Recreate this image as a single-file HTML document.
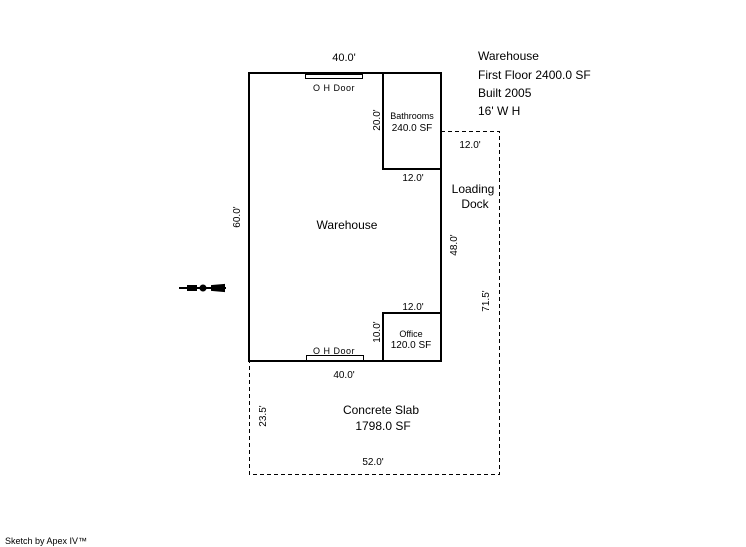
<!DOCTYPE html>
<html><head><style>
html,body{margin:0;padding:0;background:#fff;width:746px;height:547px;overflow:hidden}
svg text{font-family:"Liberation Sans",sans-serif;fill:#000}
</style></head><body>
<svg width="746" height="547" viewBox="0 0 746 547" xmlns="http://www.w3.org/2000/svg">
<g fill="none" stroke="#000" stroke-width="1" stroke-dasharray="4,3">
<polyline points="441,131.5 499.5,131.5 499.5,474.5 249.5,474.5 249.5,361"/>
</g>
<g fill="none" stroke="#000" stroke-width="2">
<rect x="249" y="73" width="192" height="288"/>
<polyline points="383,73 383,169 441,169"/>
<polyline points="383,361 383,313 441,313"/>
</g>
<rect x="305.5" y="74.5" width="57" height="4" fill="#fff" stroke="#000" stroke-width="1"/>
<rect x="306.5" y="355.5" width="57" height="5" fill="#fff" stroke="#000" stroke-width="1"/>
<g font-size="11">
<text x="344" y="61" text-anchor="middle">40.0'</text>
<text x="334" y="91" text-anchor="middle" font-size="9" letter-spacing="0.5">O H Door</text>
<text x="334" y="354" text-anchor="middle" font-size="9" letter-spacing="0.5">O H Door</text>
<text x="412" y="119" text-anchor="middle" font-size="9">Bathrooms</text>
<text x="412" y="131" text-anchor="middle" font-size="10">240.0 SF</text>
<text x="411" y="337" text-anchor="middle" font-size="9">Office</text>
<text x="411" y="348" text-anchor="middle" font-size="10">120.0 SF</text>
<text x="413" y="181" text-anchor="middle" font-size="10">12.0'</text>
<text x="413" y="310" text-anchor="middle" font-size="10">12.0'</text>
<text x="470" y="148" text-anchor="middle" font-size="10">12.0'</text>
<text x="344" y="378" text-anchor="middle" font-size="10">40.0'</text>
<text x="373" y="465" text-anchor="middle" font-size="10">52.0'</text>
<text x="347" y="229" text-anchor="middle" font-size="12">Warehouse</text>
<text x="473" y="193" text-anchor="middle" font-size="12">Loading</text>
<text x="475" y="208" text-anchor="middle" font-size="12">Dock</text>
<text x="381" y="414" text-anchor="middle" font-size="12">Concrete Slab</text>
<text x="383" y="430" text-anchor="middle" font-size="12">1798.0 SF</text>
<text transform="translate(380,120) rotate(-90)" text-anchor="middle" font-size="10">20.0'</text>
<text transform="translate(380,332) rotate(-90)" text-anchor="middle" font-size="10">10.0'</text>
<text transform="translate(240,217) rotate(-90)" text-anchor="middle" font-size="10">60.0'</text>
<text transform="translate(457,245) rotate(-90)" text-anchor="middle" font-size="10">48.0'</text>
<text transform="translate(489,301) rotate(-90)" text-anchor="middle" font-size="10">71.5'</text>
<text transform="translate(266,416) rotate(-90)" text-anchor="middle" font-size="10">23.5'</text>
<text x="478" y="60" font-size="12">Warehouse</text>
<text x="478" y="79" font-size="12">First Floor <tspan font-size="12">2400.0 SF</tspan></text>
<text x="478" y="97" font-size="12">Built 2005</text>
<text x="478" y="115" font-size="12">16' W H</text>
<text x="5" y="544" font-size="9">Sketch by Apex IV™</text>
</g>
<g stroke="#000" stroke-width="2" fill="#000">
<line x1="179" y1="288" x2="226" y2="288"/>
<circle cx="203" cy="288" r="2.5"/>
<polygon points="188,286 196,286 196,290 188,290"/>
<polygon points="212,286 224,285 224,291 212,290"/>
</g>
</svg>
</body></html>
